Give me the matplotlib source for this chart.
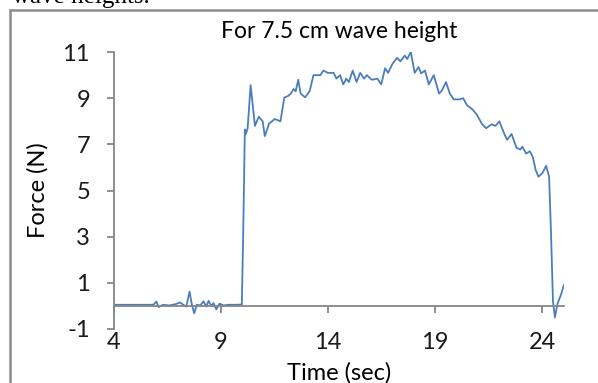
import numpy as np
import matplotlib.pyplot as plt
from matplotlib.patches import Rectangle

# force trace (time in s, force in N)
time = [4.0, 5.0, 5.86, 5.99, 6.1, 6.3, 6.6, 6.9, 7.1, 7.25, 7.39, 7.54, 7.65, 7.76,
        7.88, 8.04, 8.19, 8.32, 8.43, 8.55, 8.66, 8.79, 8.94, 9.13, 9.36, 9.75, 9.98,
        10.05, 10.12, 10.17, 10.25, 10.39, 10.5, 10.59, 10.77, 10.95, 11.05, 11.25,
        11.52, 11.78, 11.96, 12.14, 12.26, 12.4, 12.49, 12.61, 12.72, 12.93, 13.14,
        13.32, 13.64, 13.78, 13.99, 14.26, 14.39, 14.56, 14.71, 14.85, 14.97, 15.15,
        15.33, 15.5, 15.68, 15.81, 16.04, 16.3, 16.48, 16.66, 16.8, 17.01, 17.22,
        17.37, 17.58, 17.69, 17.86, 18.04, 18.22, 18.34, 18.52, 18.7, 18.93, 19.18,
        19.32, 19.5, 19.68, 19.86, 20.12, 20.3, 20.48, 20.75, 20.93, 21.19, 21.37,
        21.63, 21.81, 21.99, 22.2, 22.35, 22.56, 22.79, 22.97, 23.06, 23.24, 23.41,
        23.55, 23.68, 23.81, 23.99, 24.17, 24.31, 24.4, 24.49, 24.58, 24.7, 24.85,
        25.0]
force = [0.05, 0.05, 0.05, 0.19, -0.05, 0.05, 0.02, 0.08, 0.15, 0.05, -0.03, 0.62, 0.05,
         -0.32, 0.05, 0.02, 0.2, -0.02, 0.22, 0.0, 0.12, -0.15, 0.1, 0.02, 0.05, 0.05,
         0.06, 3.5, 7.65, 7.45, 7.7, 9.57, 8.6, 7.8, 8.2, 8.0, 7.36, 7.9,
         8.1, 8.0, 9.03, 9.1, 9.2, 9.4, 9.3, 9.8, 9.2, 9.04, 9.3,
         10.0, 10.0, 10.2, 10.1, 10.1, 9.85, 10.0, 9.6, 9.85, 9.7, 10.2,
         9.7, 10.1, 9.85, 10.0, 9.8, 9.85, 9.6, 10.3, 10.1, 10.5, 10.75,
         10.6, 10.85, 10.7, 11.0, 10.1, 10.35, 10.08, 10.2, 9.6, 10.0, 9.2,
         9.35, 9.7, 9.2, 8.95, 8.95, 9.0, 8.7, 8.5, 8.3, 7.87, 7.7,
         7.87, 7.8, 8.0, 7.5, 7.2, 7.45, 6.85, 6.78, 6.9, 6.6, 6.7,
         6.45, 5.9, 5.6, 5.75, 6.07, 5.6, 3.1, 0.2, -0.5, 0.1, 0.45,
         0.9]

x_ticks = [4, 9, 14, 19, 24]
y_ticks = [-1, 1, 3, 5, 7, 9, 11]

plt.rcParams['font.family'] = ['Lato', 'DejaVu Sans']
plt.rcParams['axes.unicode_minus'] = False
axis_grey = '#868686'

fig = plt.figure(figsize=(5.98, 3.83), dpi=100)
ax = fig.add_axes([0.19, 0.141, 0.753, 0.723])

ax.plot(time, force, color='#4a7ebb', lw=1.3)

ax.set_xlim(4, 25)
ax.set_ylim(-1, 11)
ax.set_xticks(x_ticks)
ax.set_yticks(y_ticks)

# excel style: horizontal axis crosses at zero, labels stay at the bottom
ax.spines['top'].set_visible(False)
ax.spines['right'].set_visible(False)
ax.spines['bottom'].set_position(('data', 0))
for s in ['left', 'bottom']:
    ax.spines[s].set_color(axis_grey)
    ax.spines[s].set_linewidth(1.3)
ax.tick_params(axis='both', colors=axis_grey, labelcolor='#1a1a1a', labelsize=17,
               length=5, width=1.3, direction='out')
ax.tick_params(axis='x', pad=14)
ax.tick_params(axis='y', pad=12)

ax.set_title('For 7.5 cm wave height', fontsize=16.5, pad=10)
ax.set_ylabel('Force (N)', fontsize=17)
ax.yaxis.set_label_coords(-0.145, 0.5)
ax.set_xlabel('Time (sec)', fontsize=17)
ax.xaxis.set_label_coords(0.5, -0.118)

# frame of the embedded chart and the cut-off caption above it
fig.patches.append(Rectangle((9.5 / 598, -0.1), 1.0, 1 - 9.5 / 383 + 0.1,
                             transform=fig.transFigure, fill=False,
                             edgecolor='#8c8c8c', lw=1.8))
fig.text(12 / 598, 1 - 3.5 / 383, 'wave heights.', family='Liberation Serif',
         fontsize=18, va='baseline', ha='left')

fig.savefig('out.png', dpi=100)
